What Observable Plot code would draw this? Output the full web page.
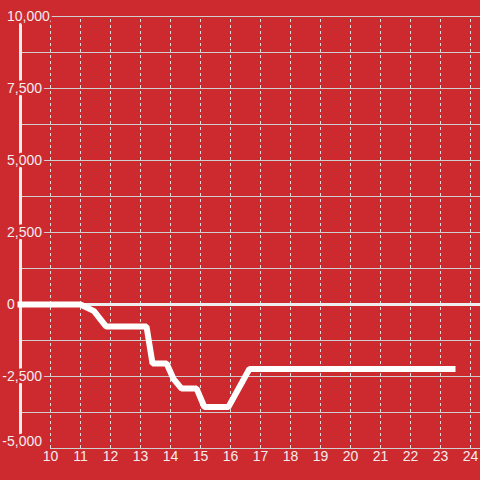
<!DOCTYPE html>
<html>
<head>
<meta charset="utf-8">
<script src="https://cdn.jsdelivr.net/npm/d3@7"></script>
<script src="https://cdn.jsdelivr.net/npm/@observablehq/plot@0.6"></script>
<style>
  html, body { margin: 0; padding: 0; background: #cc2a2f; overflow: hidden; }
  #chart svg { display: block; }
</style>
</head>
<body>
<div id="chart"></div>
<script>
// Data
const lineX = [8.9, 11, 11.45, 11.85, 13.2, 13.4, 13.87, 14.1, 14.37, 14.87, 15.13, 15.93, 16.63, 23.5];
const lineY = [0, 0, -230, -760, -760, -2050, -2050, -2580, -2920, -2920, -3560, -3560, -2240, -2240];
const xTicks = [10, 11, 12, 13, 14, 15, 16, 17, 18, 19, 20, 21, 22, 23, 24];
const yGridTicks = [-5000, -3750, -2500, -1250, 0, 1250, 2500, 3750, 5000, 6250, 7500, 8750, 10000];
const yLabelTicks = [-5000, -2500, 0, 2500, 5000, 7500, 10000];

const BG = "#cc2a2f";
const TEXT = "#f3ecec";
const data = lineX.map((x, i) => ({x, y: lineY[i]}));
const fmt = d => d.toLocaleString("en-US");

const W = 480, H = 480, ML = 20, MT = 16, MB = 32;
const pxPerUnit = 30;
const xMax = 9 + (W - ML) / pxPerUnit;
const yMin = yGridTicks[0];

const chart = Plot.plot({
  width: W,
  height: H,
  marginLeft: ML,
  marginRight: 0,
  marginTop: MT,
  marginBottom: MB,
  x: {domain: [9, xMax], axis: null},
  y: {domain: [-5000, 10000], axis: null},
  style: {background: BG, fontFamily: "'Liberation Sans', Arial, sans-serif", fontSize: "14px"},
  marks: [
    Plot.ruleY(yGridTicks.filter(d => d !== yMin), {stroke: "#cfcfcf", strokeWidth: 1}),
    Plot.ruleY([yMin], {x1: xTicks[0], x2: xMax, stroke: "#cfcfcf", strokeWidth: 1}),
    Plot.ruleX(xTicks, {y1: -5000, y2: 10000, stroke: "#dddddd", strokeWidth: 1, strokeDasharray: "3,3"}),
    Plot.ruleY([0], {stroke: "#eeeeee", strokeWidth: 3}),
    Plot.ruleX([9], {y1: -5000, y2: 10000, stroke: "#eeeeee", strokeWidth: 3}),
    // y labels: digits left-aligned, minus sign hanging to the left
    Plot.text(yLabelTicks.filter(d => d >= 0), {
      y: d => d, text: fmt, frameAnchor: "left", dx: -13.5, textAnchor: "start",
      fill: TEXT, stroke: BG, strokeWidth: 5, paintOrder: "stroke"
    }),
    Plot.text(yLabelTicks.filter(d => d < 0 && d > -5000), {
      y: d => d, text: fmt, frameAnchor: "left", dx: -18.2, textAnchor: "start",
      fill: TEXT, stroke: BG, strokeWidth: 5, paintOrder: "stroke"
    }),
    Plot.text(yLabelTicks.filter(d => d === -5000), {
      y: d => d, text: fmt, frameAnchor: "left", dx: -18.2, dy: -7, textAnchor: "start",
      fill: TEXT, stroke: BG, strokeWidth: 5, paintOrder: "stroke"
    }),
    Plot.line(data, {x: "x", y: "y", stroke: "#ffffff", strokeWidth: 6, strokeLinejoin: "miter", strokeLinecap: "butt"}),
    Plot.text(xTicks, {x: d => d, text: d => String(d), frameAnchor: "bottom", dy: 12, fill: TEXT})
  ]
});
document.getElementById("chart").appendChild(chart);
</script>
</body>
</html>
